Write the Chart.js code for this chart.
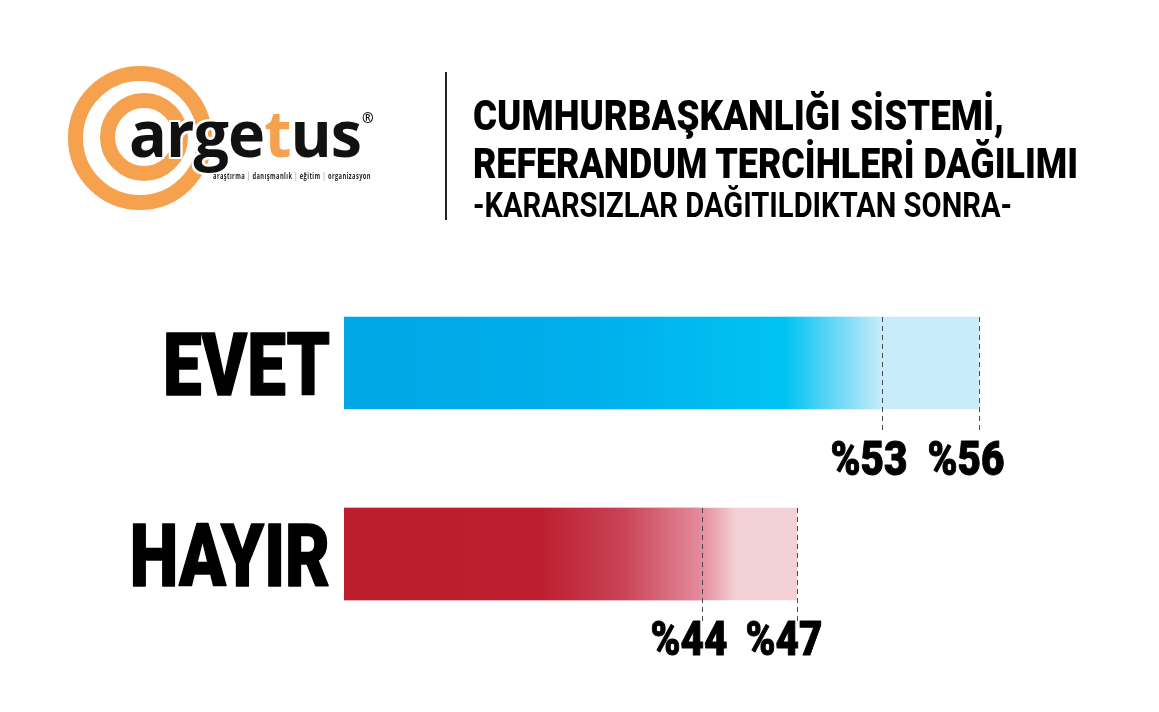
<!DOCTYPE html>
<html>
<head>
<meta charset="utf-8">
<script src="https://cdn.jsdelivr.net/npm/chart.js@4.4.1/dist/chart.umd.min.js"></script>
<style>
  body { margin: 0; background: #fff; }
  #wrap { position: relative; width: 1159px; height: 712px; overflow: hidden; }
  #c { position: absolute; left: 0; top: 0; }
  .abs { position: absolute; white-space: nowrap; transform-origin: 0 0; }
  .ring { position: absolute; border-radius: 50%; border: 15px solid #f6a14d; box-sizing: border-box; }
  .cond { font-family: Roboto, "DejaVu Sans Condensed", sans-serif; color: #000; line-height: 1; }
</style>
</head>
<body>
<div id="wrap">
  <canvas id="c" width="1159" height="712"></canvas>

  <!-- logo -->
  <div class="ring" style="left:68px;top:66px;width:144px;height:144px;"></div>
  <div class="ring" style="left:100px;top:93px;width:88px;height:88px;"></div>
  <div class="abs" data-w="232" style="left:129px;top:101px;font:700 64px 'Open Sans',sans-serif;line-height:1;color:#111;letter-spacing:-1px;
       text-shadow:2px 0 #fff,-2px 0 #fff,0 2px #fff,0 -2px #fff,2px 2px #fff,-2px -2px #fff,2px -2px #fff,-2px 2px #fff;">arge<span style="color:#f6a14d">t</span>us</div>
  <div class="abs" style="left:362px;top:108px;font:700 14px 'Open Sans',sans-serif;color:#111;">®</div>
  <div class="abs" data-w="158" style="left:213px;top:172px;font:700 8px 'Open Sans',sans-serif;line-height:1;color:#222;letter-spacing:0.6px;">araştırma <span style="color:#aaa">|</span> danışmanlık <span style="color:#aaa">|</span> eğitim <span style="color:#aaa">|</span> organizasyon</div>

  <div style="position:absolute;left:445px;top:72px;width:2px;height:148px;background:#222;"></div>

  <!-- title -->
  <div class="abs cond" data-w="531" style="left:473px;top:95px;font-size:42px;font-weight:900;">CUMHURBAŞKANLIĞI SİSTEMİ,</div>
  <div class="abs cond" data-w="605" style="left:473px;top:143px;font-size:42px;font-weight:900;">REFERANDUM TERCİHLERİ DAĞILIMI</div>
  <div class="abs cond" data-w="539" style="left:473px;top:188px;font-size:35px;font-weight:700;">-KARARSIZLAR DAĞITILDIKTAN SONRA-</div>
</div>

<script>
// data
var categories = ["EVET", "HAYIR"];
var lowValues = [53, 44];
var highValues = [56, 47];

// each row sits on its own (hidden) value axis, as in the original graphic
var axisIds = ["xEvet", "xHayir"];

var LABEL_FONT = 'Roboto, "DejaVu Sans Condensed", sans-serif';

// gradient stops per bar (fraction, colour)
var fades = [
  [[0, "#00a7e5"], [0.45, "#00afeb"], [0.82, "#00c3f2"], [1, "#c6ebfa"]],
  [[0, "#bb1d2c"], [0.55, "#bd1f30"], [0.78, "#c84356"], [1, "#e48d9c"]]
];
var lightColors = ["#c8ecfa", "#f3d1d6"];
// soft start of the light part (px), only the red row has one
var lightBlend = [0, 34];

function fitText(ctx, text, x, y, sx, align) {
  ctx.save();
  ctx.translate(x, y);
  ctx.scale(sx, 1);
  ctx.textAlign = align;
  ctx.fillText(text, 0, 0);
  ctx.strokeText(text, 0, 0);
  ctx.restore();
}

var markPlugin = {
  id: "marks",
  afterDatasetsDraw: function(chart) {
    var ctx = chart.ctx;
    var ys = chart.scales.y;
    var half = 46;
    var pctBase = [66, 55];
    ctx.save();
    ctx.fillStyle = "#000";
    ctx.strokeStyle = "#000";
    ctx.lineJoin = "round";

    // category labels
    ctx.font = "900 88px " + LABEL_FONT;
    var sxCat = 167 / ctx.measureText("EVET").width;
    ctx.lineWidth = 1.5;
    categories.forEach(function(name, i) {
      var y = ys.getPixelForValue(i);
      fitText(ctx, name, chart.chartArea.left - 14, y + 32, sxCat, "right");
    });

    // dashed marks and percentage labels
    ctx.font = "900 49px " + LABEL_FONT;
    var sxPct = 77 / ctx.measureText("%53").width;
    categories.forEach(function(name, i) {
      var y = ys.getPixelForValue(i);
      var xs = chart.scales[axisIds[i]];
      [lowValues[i], highValues[i]].forEach(function(v) {
        var x = Math.round(xs.getPixelForValue(v)) + 0.5;
        ctx.save();
        ctx.setLineDash([5, 4]);
        ctx.lineWidth = 1;
        ctx.strokeStyle = "#4a4a4a";
        ctx.beginPath();
        ctx.moveTo(x, y - half);
        ctx.lineTo(x, y + half + 21);
        ctx.stroke();
        ctx.restore();
        ctx.lineWidth = 1;
        fitText(ctx, "%" + v, x + 25, y + half + pctBase[i], sxPct, "right");
      });
    });
    ctx.restore();
  }
};

function fadeFill(c) {
  var chart = c.chart;
  var area = chart.chartArea;
  var i = c.dataIndex;
  if (!area) return lightColors[i];
  var x1 = chart.scales[axisIds[i]].getPixelForValue(lowValues[i]);
  var g = chart.ctx.createLinearGradient(area.left, 0, x1, 0);
  fades[i].forEach(function(s) { g.addColorStop(s[0], s[1]); });
  return g;
}

function lightFill(c) {
  var chart = c.chart;
  var i = c.dataIndex;
  if (!chart.chartArea || !lightBlend[i]) return lightColors[i];
  var x0 = chart.scales[axisIds[i]].getPixelForValue(lowValues[i]);
  var g = chart.ctx.createLinearGradient(x0, 0, x0 + lightBlend[i], 0);
  var stops = fades[i];
  g.addColorStop(0, stops[stops.length - 1][1]);
  g.addColorStop(1, lightColors[i]);
  return g;
}

function onlyRow(values, i) {
  return values.map(function(v, j) { return j === i ? v : null; });
}

var datasets = [];
categories.forEach(function(name, i) {
  datasets.push({
    label: name + " alt",
    data: onlyRow(lowValues, i),
    xAxisID: axisIds[i],
    backgroundColor: fadeFill,
    borderWidth: 0,
    order: 0
  });
  datasets.push({
    label: name + " üst",
    data: onlyRow(highValues, i),
    xAxisID: axisIds[i],
    backgroundColor: lightFill,
    borderWidth: 0,
    order: 1
  });
});

new Chart(document.getElementById("c"), {
  type: "bar",
  data: { labels: categories, datasets: datasets },
  options: {
    indexAxis: "y",
    responsive: false,
    animation: false,
    grouped: false,
    barThickness: 92,
    layout: { padding: { left: 344, right: 112, top: 267.5, bottom: 62.5 } },
    scales: {
      xEvet: { axis: "x", type: "linear", display: false, min: 36.4, max: 58.1 },
      xHayir: { axis: "x", type: "linear", display: false, min: 32.7, max: 54.9 },
      y: { display: false }
    },
    plugins: {
      legend: { display: false },
      tooltip: { enabled: false }
    }
  },
  plugins: [markPlugin]
});

// squeeze html text lines to the widths in the picture
document.querySelectorAll("[data-w]").forEach(function(el) {
  var w = el.getBoundingClientRect().width;
  el.style.transform = "scaleX(" + (el.dataset.w / w) + ")";
});
</script>
</body>
</html>
